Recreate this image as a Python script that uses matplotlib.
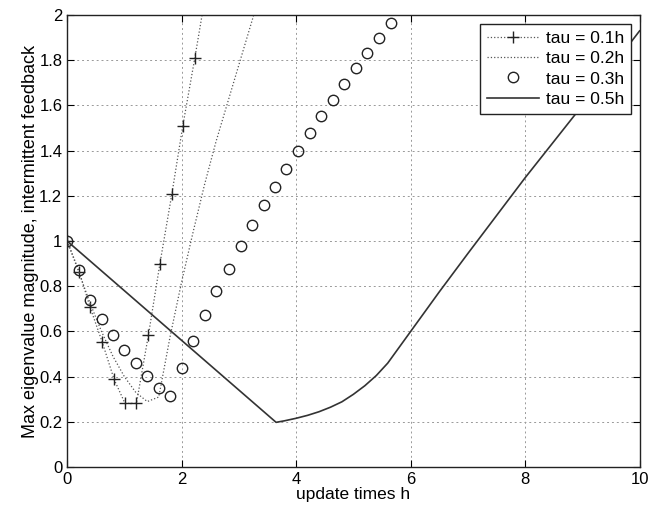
import numpy as np, matplotlib
matplotlib.use("Agg")
import matplotlib.pyplot as plt

plt.rcParams["font.family"] = ["Liberation Sans", "DejaVu Sans"]

h1 = [0, 0.21, 0.40, 0.61, 0.82, 1.01, 1.21, 1.42, 1.62, 1.83, 2.02, 2.23, 2.43]
tau01 = [1.0, 0.865, 0.707, 0.555, 0.388, 0.282, 0.282, 0.585, 0.90, 1.21, 1.51, 1.81, 2.11]

h2 = [0, 0.2, 0.4, 0.6, 0.8, 1.0, 1.2, 1.4, 1.6, 1.8, 2.0, 2.2, 2.4, 2.6, 2.8, 3.0, 3.2, 3.4]
tau02 = [1.0, 0.865, 0.725, 0.60, 0.49, 0.40, 0.33, 0.29, 0.31, 0.58, 0.82, 1.04, 1.25,
         1.44, 1.61, 1.78, 1.95, 2.12]

h3 = [0, 0.2, 0.4, 0.6, 0.8, 1.0, 1.2, 1.4, 1.6, 1.8, 2.0, 2.2, 2.4, 2.6, 2.82, 3.03,
      3.23, 3.43, 3.63, 3.83, 4.04, 4.24, 4.44, 4.64, 4.84, 5.04, 5.24, 5.44, 5.65]
tau03 = [1.0, 0.87, 0.74, 0.655, 0.584, 0.519, 0.46, 0.405, 0.352, 0.315, 0.438, 0.556,
         0.671, 0.777, 0.875, 0.977, 1.069, 1.159, 1.24, 1.32, 1.40, 1.48, 1.553, 1.624,
         1.694, 1.764, 1.831, 1.898, 1.965]

h5 = [0, 3.65, 3.8, 4.0, 4.2, 4.4, 4.6, 4.8, 5.0, 5.2, 5.4, 5.6, 5.8, 6.0, 6.5, 7.0,
      8.0, 9.0, 10.0]
tau05 = [1.0, 0.198, 0.205, 0.216, 0.229, 0.245, 0.265, 0.289, 0.322, 0.36, 0.405, 0.46,
         0.53, 0.60, 0.775, 0.945, 1.28, 1.60, 1.93]

xticks = [0, 2, 4, 6, 8, 10]
yticks = [0, 0.2, 0.4, 0.6, 0.8, 1, 1.2, 1.4, 1.6, 1.8, 2]
ytick_labels = ["0", "0.2", "0.4", "0.6", "0.8", "1", "1.2", "1.4", "1.6", "1.8", "2"]

fig = plt.figure(figsize=(6.49, 5.19), dpi=100)
ax = fig.add_axes([0.1035, 0.100, 0.882, 0.871])

ax.plot(h1, tau01, ls=":", color="#555555", lw=0.9, marker="+", ms=8,
        mec="#222222", mew=1.0, label="tau = 0.1h")
ax.plot(h2, tau02, ls=":", color="#555555", lw=0.9, label="tau = 0.2h")
ax.plot(h3, tau03, ls="none", marker="o", ms=7.5, mfc="none", mec="#222222",
        mew=1.0, label="tau = 0.3h")
ax.plot(h5, tau05, ls="-", color="#333333", lw=1.2, label="tau = 0.5h")

ax.set_xlim(0, 10); ax.set_ylim(0, 2)
ax.set_xticks(xticks)
ax.set_yticks(yticks)
ax.set_yticklabels(ytick_labels)
ax.grid(True, color="#999999", ls=(0, (2, 3)), lw=0.7)
ax.tick_params(direction="in", top=True, right=True, length=5, labelsize=12)
for sp in ax.spines.values():
    sp.set_linewidth(1.0); sp.set_color("#222222")
ax.set_xlabel("update times h", fontsize=12.5, labelpad=0)
ax.set_ylabel("Max eigenvalue magnitude, intermittent feedback", fontsize=13, labelpad=0)

leg = ax.legend(loc="upper right", fontsize=12.5, handlelength=3.0, handletextpad=0.4,
                borderpad=0.4, labelspacing=0.3, fancybox=False, framealpha=1,
                edgecolor="#222222", borderaxespad=0.5)
leg.get_frame().set_linewidth(1.0)

fig.savefig("out.png", dpi=100)
